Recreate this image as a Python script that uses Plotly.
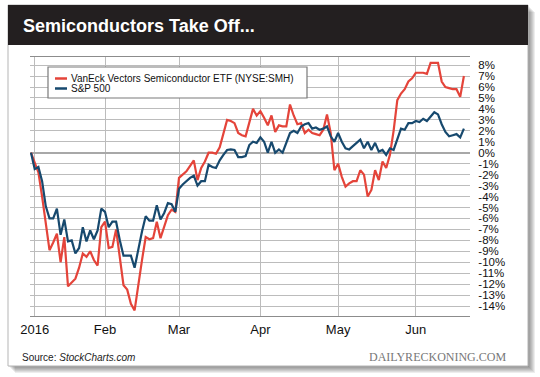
import pandas as pd
import plotly.graph_objects as go

# ---- data ----
holidays = ["2016-01-01", "2016-01-18", "2016-02-15", "2016-03-25", "2016-05-30"]
dates = [d for d in pd.bdate_range("2015-12-31", "2016-06-20") if d.strftime("%Y-%m-%d") not in holidays]

smh = [0.0, -1.0, -1.8, -4.0, -6.5, -8.9, -8.2, -7.4, -10.0, -7.7,
       -12.2, -11.8, -11.5, -10.5, -9.2, -9.5, -9.0, -9.8, -10.3, -6.8,
       -6.3, -8.7, -8.6, -7.0, -9.8, -12.1, -12.5, -13.8, -14.4, -12.0,
       -9.8, -7.7, -7.9, -7.8, -6.3, -7.8, -6.8, -5.7, -5.2, -5.4,
       -2.3, -2.0, -1.7, -1.2, -0.7, -2.5, -1.4, -0.8, 0.0, 0.0,
       -0.1, 0.5, 1.8, 3.0, 2.9, 2.7, 1.8, 1.6, 1.5, 2.8,
       4.0, 3.4, 3.8, 3.2, 2.5, 3.4, 1.9, 2.5, 2.4, 2.4,
       4.4, 3.4, 2.6, 2.7, 1.8, 2.1, 1.8, 1.7, 1.6, 2.1,
       3.5, 1.8, -1.6, -1.0, -2.2, -3.1, -2.8, -2.6, -2.6, -1.6,
       -2.0, -4.0, -3.4, -1.6, -2.5, -0.8, -1.4, -0.2, 2.0, 4.8,
       5.4, 5.8, 6.5, 6.8, 7.3, 7.3, 7.3, 7.2, 8.2, 8.2,
       8.2, 6.5, 6.0, 5.9, 5.8, 5.8, 5.1, 7.0]

spx = [0.0, -1.5, -1.3, -2.6, -4.9, -6.0, -6.0, -5.1, -7.5, -6.1,
       -8.1, -8.0, -9.2, -8.7, -6.8, -8.1, -7.1, -7.9, -7.1, -5.1,
       -5.4, -6.8, -6.3, -6.3, -8.0, -9.4, -9.4, -9.4, -10.5, -8.8,
       -7.2, -5.8, -6.2, -6.2, -4.8, -6.1, -5.5, -4.6, -4.7, -5.4,
       -3.3, -2.9, -2.6, -2.3, -2.1, -3.0, -2.6, -2.6, -1.1, -1.3,
       -1.4, -0.7, -0.2, 0.25, 0.3, 0.25, -0.4, -0.4, -0.3, 0.7,
       1.0, 0.9, 1.4, 1.0, 0.0, 1.0, 0.0, 0.3, 0.0, 0.9,
       1.8, 2.0, 1.8, 2.4, 2.6, 2.7, 2.2, 2.3, 2.1, 2.2,
       2.4, 1.5, 1.0, 1.8, 1.0, 0.4, 0.3, 0.6, 0.9, 1.2,
       0.4, 1.0, 0.25, 0.9, 0.1, 0.25, -0.2, 0.4, 0.25, 1.3,
       2.2, 2.1, 2.7, 2.7, 2.9, 2.8, 3.1, 2.9, 3.3, 3.7,
       3.5, 2.6, 1.9, 1.5, 1.6, 1.7, 1.4, 2.2]

series_names = ["VanEck Vectors Semiconductor ETF (NYSE:SMH)", "S&P 500"]
month_labels = ["2016", "Feb", "Mar", "Apr", "May", "Jun"]
y_ticks = list(range(-14, 9))
y_ticklabels = [f"{v}%" for v in y_ticks]

# positions: trading-day index, -1 = base day
x = list(range(-1, len(dates) - 1))
month_idx = []
seen = set()
for i, d in zip(x, dates):
    if d.year == 2016 and d.month not in seen:
        seen.add(d.month)
        month_idx.append(i)

RED = "#E4443A"
BLUE = "#17496E"
GRID = "#bcbcbc"
FONT = "Liberation Sans, Arial, sans-serif"

W, H = 540, 377
L, R, T, B = 30, 470, 57, 316


def px(v):
    return (v - L) / (R - L)


def py(v):
    return (B - v) / (B - T)


fig = go.Figure()
fig.add_trace(go.Scatter(x=x, y=smh, mode="lines", name=series_names[0],
                         line=dict(color=RED, width=2.2), showlegend=False))
fig.add_trace(go.Scatter(x=x, y=spx, mode="lines", name=series_names[1],
                         line=dict(color=BLUE, width=2.2), showlegend=False))

shapes = []
# card shadow
for k in range(1, 8):
    shapes.append(dict(type="rect", xref="paper", yref="paper", layer="below",
                       x0=px(8 + k), x1=px(528 + k), y0=py(5 + k), y1=py(366 + k),
                       line=dict(width=0), fillcolor="rgba(0,0,0,0.07)"))
# card
shapes.append(dict(type="rect", xref="paper", yref="paper", layer="below",
                   x0=px(8), x1=px(528), y0=py(5), y1=py(366),
                   line=dict(width=1, color="#b5b5b5"), fillcolor="white"))
# title band
shapes.append(dict(type="rect", xref="paper", yref="paper", layer="below",
                   x0=px(8), x1=px(528), y0=py(5), y1=py(45),
                   line=dict(width=0), fillcolor="#231F20"))
# legend box
shapes.append(dict(type="rect", xref="paper", yref="paper", layer="above",
                   x0=px(48), x1=px(307), y0=py(67), y1=py(98),
                   line=dict(width=1.2, color="#7a7a7a"), fillcolor="white"))
for col, yy in [(RED, 78.5), (BLUE, 88.5)]:
    shapes.append(dict(type="line", xref="paper", yref="paper", layer="above",
                       x0=px(55), x1=px(67), y0=py(yy), y1=py(yy),
                       line=dict(width=2.5, color=col)))

annotations = [
    dict(text="<b>Semiconductors Take Off...</b>", xref="paper", yref="paper",
         x=px(21), y=py(26), xanchor="left", yanchor="middle", showarrow=False,
         font=dict(family=FONT, size=18, color="white")),
    dict(text=series_names[0], xref="paper", yref="paper", x=px(69), y=py(78.5),
         xanchor="left", yanchor="middle", showarrow=False,
         font=dict(family=FONT, size=10, color="#111")),
    dict(text=series_names[1], xref="paper", yref="paper", x=px(69), y=py(88.5),
         xanchor="left", yanchor="middle", showarrow=False,
         font=dict(family=FONT, size=10, color="#111")),
    dict(text="Source: <i>StockCharts.com</i>", xref="paper", yref="paper",
         x=px(20), y=py(357), xanchor="left", yanchor="middle", showarrow=False,
         font=dict(family=FONT, size=10, color="#222")),
    dict(text="DAILYRECKONING.COM", xref="paper", yref="paper",
         x=px(508), y=py(357), xanchor="right", yanchor="middle", showarrow=False,
         font=dict(family="Liberation Serif, Times New Roman, serif", size=12, color="#777")),
]

fig.update_layout(
    width=W, height=H,
    margin=dict(l=L, r=W - R, t=T, b=H - B, pad=0),
    paper_bgcolor="white", plot_bgcolor="rgba(0,0,0,0)",
    shapes=shapes, annotations=annotations,
    showlegend=False,
    xaxis=dict(range=[-1.27, 117.65], tickvals=month_idx, ticktext=month_labels,
               showgrid=True, gridcolor=GRID, gridwidth=1, zeroline=False,
               showline=True, mirror=True, linecolor="#8c8c8c", linewidth=1.2,
               ticks="outside", ticklen=1, tickcolor="rgba(0,0,0,0)",
               tickfont=dict(family=FONT, size=13, color="#111")),
    yaxis=dict(range=[-14.91, 8.74], side="right", tickvals=y_ticks, ticktext=y_ticklabels,
               showgrid=True, gridcolor=GRID, gridwidth=1,
               zeroline=True, zerolinecolor="#a8a8a8", zerolinewidth=2,
               showline=False, ticks="outside", ticklen=5, tickcolor="rgba(0,0,0,0)",
               tickfont=dict(family=FONT, size=11.5, color="#111")),
)

fig.write_html("out.html", config={"displayModeBar": False},
               post_script="document.body.style.margin='0px';document.body.style.overflow='hidden';")
